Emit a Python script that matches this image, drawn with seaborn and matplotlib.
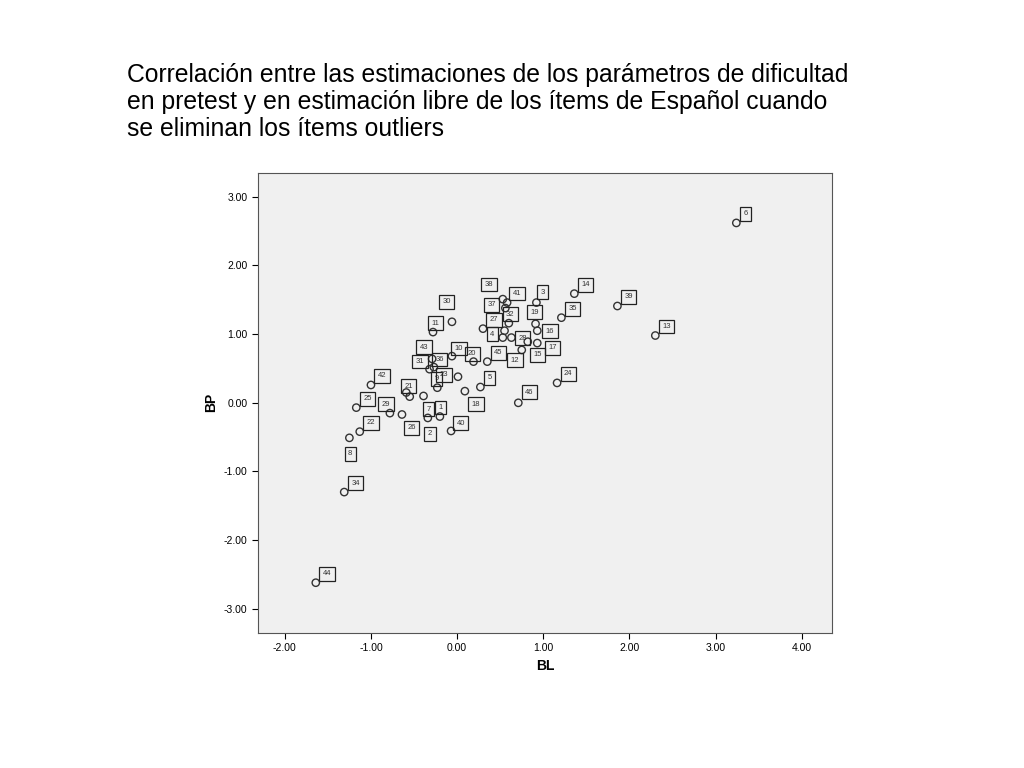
import matplotlib
matplotlib.use("Agg")
import matplotlib.pyplot as plt
import seaborn as sns
import pandas as pd

labels = [6,44,34,8,22,25,42,29,26,7,21,31,9,2,1,40,43,36,23,10,11,30,27,20,18,5,45,46,24,12,15,17,4,28,32,19,16,3,38,41,37,35,14,39,13]
bl = [3.24,-1.64,-1.31,-1.25,-1.13,-1.17,-1.00,-0.78,-0.64,-0.39,-0.55,-0.32,-0.23,-0.34,-0.20,-0.07,-0.29,-0.27,0.01,-0.06,-0.28,-0.06,0.30,0.19,0.09,0.27,0.35,0.71,1.16,0.75,0.82,0.93,0.53,0.63,0.60,0.91,0.93,0.92,0.53,0.58,0.56,1.21,1.36,1.86,2.30]
bp = [2.62,-2.62,-1.30,-0.51,-0.42,-0.07,0.26,-0.15,-0.17,0.10,0.09,0.49,0.22,-0.22,-0.20,-0.41,0.64,0.52,0.38,0.68,1.03,1.18,1.08,0.60,0.17,0.23,0.60,0.00,0.29,0.77,0.89,0.87,0.95,0.95,1.16,1.15,1.05,1.46,1.51,1.46,1.38,1.24,1.59,1.41,0.98]
extra_bl = [-0.59, 0.55]
extra_bp = [0.15, 1.05]

df = pd.DataFrame({"BL": bl + extra_bl, "BP": bp + extra_bp})

plt.rcParams["font.family"] = "Liberation Sans"
fig = plt.figure(figsize=(10.24, 7.68), dpi=100)
ax = fig.add_axes([0.252, 0.176, 0.5605, 0.599])
ax.set_facecolor("#f0f0f0")
sns.scatterplot(data=df, x="BL", y="BP", ax=ax, facecolor="none", edgecolor="#333333",
                linewidth=1.0, s=28, marker="o")

offsets = {8: (-1, -14), 26: (4, -12), 2: (0, -14), 7: (2, -12), 18: (5, -12),
           15: (4, -12), 12: (-8, -10), 4: (-9, 0), 28: (5, -3), 37: (-13, 0),
           38: (-13, 8), 21: (-4, 5), 9: (-2, 4), 36: (1, 3), 31: (-10, 3), 32: (-2, 4),
           19: (-4, 6), 16: (6, -3), 17: (8, -6), 46: (5, 5), 29: (-6, 4),
           43: (-9, 6), 23: (-13, -1), 11: (-1, 4), 30: (-7, 12), 20: (-4, 3),
           1: (-1, 4), 40: (4, 3), 41: (4, 4), 3: (3, 5), 10: (2, 3)}
for lab, x, y in zip(labels, bl, bp):
    dx, dy = offsets.get(lab, (5, 4))
    ax.annotate(str(lab), (x, y), xytext=(dx, dy), textcoords="offset points",
                fontsize=5.5, ha="left", va="bottom", color="#333333",
                bbox=dict(boxstyle="square,pad=0.45", fc="none", ec="#222222", lw=0.9))

ax.set_xlim(-2.31, 4.35)
ax.set_ylim(-3.35, 3.35)
ax.set_xticks([-2, -1, 0, 1, 2, 3, 4])
ax.set_yticks([-3, -2, -1, 0, 1, 2, 3])
ax.xaxis.set_major_formatter(matplotlib.ticker.FormatStrFormatter("%.2f"))
ax.yaxis.set_major_formatter(matplotlib.ticker.FormatStrFormatter("%.2f"))
ax.tick_params(labelsize=7.5, length=4)
ax.set_xlabel("BL", fontsize=10, fontweight="bold")
ax.set_ylabel("BP", fontsize=10, fontweight="bold")
for s in ax.spines.values():
    s.set_color("#555555")
    s.set_linewidth(0.8)

fig.text(0.124, 0.918, "Correlación entre las estimaciones de los parámetros de dificultad\n"
         "en pretest y en estimación libre de los ítems de Español cuando\n"
         "se eliminan los ítems outliers", fontsize=17.8, va="top", ha="left",
         linespacing=1.15)
fig.savefig("out.png", dpi=100)
